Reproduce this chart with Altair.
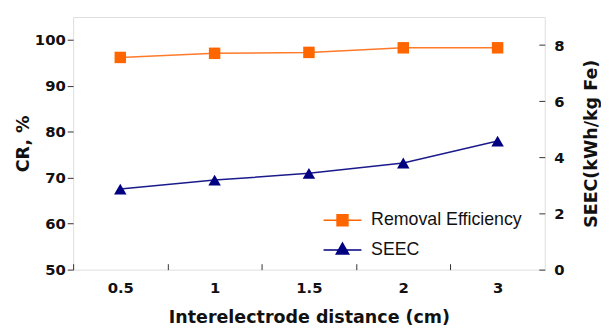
import altair as alt
import pandas as pd

distance = ["0.5", "1", "1.5", "2", "3"]
removal = [96.2, 97.1, 97.3, 98.3, 98.3]
seec = [2.87, 3.19, 3.43, 3.80, 4.58]
series = ["Removal Efficiency", "SEEC"]
series_colors = ["#FF6600", "#000080"]
cr_ticks = [50, 60, 70, 80, 90, 100]
seec_ticks = [0, 2, 4, 6, 8]

df = pd.DataFrame({"d": distance, "cr": removal, "seec": seec})
leg = pd.DataFrame({"s": series, "v": [0, 0]})

W, H = 478, 256
BOLD = "DejaVu Sans"
TFS = 17.7

xscale = alt.Scale(type="point", padding=0.5, domain=distance)

x_bottom = alt.X(
    "d:N", scale=xscale, sort=distance,
    axis=alt.Axis(orient="bottom", title="Interelectrode distance (cm)", labelAngle=0,
                  ticks=False, domain=False, labelPadding=11, labelFont=BOLD,
                  labelFontWeight="bold", labelFontSize=15, labelColor="#111",
                  titleFont=BOLD, titleFontWeight="bold", titleFontSize=TFS,
                  titleColor="#111", titlePadding=14),
)
x_ticks = alt.X(
    "d:N", scale=xscale, sort=distance,
    axis=alt.Axis(orient="top", offset=-H, labels=False, domain=False, title=None,
                  ticks=True, tickSize=6, tickColor="#333", tickWidth=1,
                  tickOffset=-W / 10, grid=False),
)

cr_layer = alt.Chart(df).mark_line(
    color="#FF7A2A", strokeWidth=1.5,
    point=alt.OverlayMarkDef(shape="square", size=135, filled=True, color="#FF6600", opacity=1),
).encode(
    x=x_bottom,
    y=alt.Y("cr:Q", scale=alt.Scale(domain=[50, 105], nice=False, zero=False),
            axis=alt.Axis(orient="left", title="CR, %", values=cr_ticks, domain=False,
                          grid=False, tickSize=6, tickColor="#333", labelPadding=2,
                          labelFont=BOLD, labelFontWeight="bold", labelFontSize=15,
                          labelColor="#111", titleFont=BOLD, titleFontWeight="bold",
                          titleFontSize=TFS, titleColor="#111", titlePadding=2)),
)

seec_layer = alt.Chart(df).mark_line(
    color="#1a1a8c", strokeWidth=1.5,
    point=alt.OverlayMarkDef(shape="triangle-up", size=160, filled=True, color="#000080", opacity=1),
).encode(
    x=x_ticks,
    y=alt.Y("seec:Q", scale=alt.Scale(domain=[0, 9], nice=False),
            axis=alt.Axis(orient="right", title="SEEC(kWh/kg Fe)", values=seec_ticks,
                          domain=False, grid=False, ticks=False, labelPadding=9,
                          labelFont=BOLD, labelFontWeight="bold", labelFontSize=15,
                          labelColor="#111", titleFont=BOLD, titleFontWeight="bold",
                          titleFontSize=TFS, titleColor="#111", titleAngle=270,
                          titlePadding=37)),
)

sq_path = "M-3.2,0H3.2M-0.92,-0.92H0.92V0.92H-0.92Z"
tri_path = "M-3.2,0H3.2M0,-1.15L1.05,0.7H-1.05Z"

legend_spec = alt.Legend(title=None, orient="none", legendX=264, legendY=197,
                         symbolSize=144, symbolStrokeWidth=1.5,
                         labelFont="Liberation Sans", labelFontSize=18,
                         labelColor="#111", labelOffset=20, rowPadding=11,
                         padding=0, symbolOpacity=1)

legend_layer = alt.Chart(leg).transform_filter("datum.v > 100").mark_point(
    filled=True, opacity=1, strokeWidth=1.5
).encode(
    y=alt.Y("v:Q", scale=alt.Scale(domain=[0, 9], nice=False),
            axis=alt.Axis(orient="left", offset=-W, labels=False, domain=False,
                          title=None, grid=False, values=seec_ticks, tickSize=6,
                          tickColor="#333")),
    fill=alt.Fill("s:N", scale=alt.Scale(domain=series, range=series_colors),
                  legend=legend_spec),
    stroke=alt.Stroke("s:N", scale=alt.Scale(domain=series, range=series_colors),
                      legend=legend_spec),
    shape=alt.Shape("s:N", scale=alt.Scale(domain=series, range=[sq_path, tri_path]),
                    legend=legend_spec),
)

chart = alt.layer(cr_layer, seec_layer, legend_layer).resolve_scale(
    y="independent"
).resolve_axis(
    x="independent", y="independent"
).properties(
    width=W, height=H,
    autosize=alt.AutoSizeParams(type="none"),
    padding={"left": 66, "top": 7, "right": 57, "bottom": 56},
).configure_view(stroke="#333", strokeWidth=1.3).configure(background="white")

chart.save("out.html", embed_options={"renderer": "svg", "actions": False})
